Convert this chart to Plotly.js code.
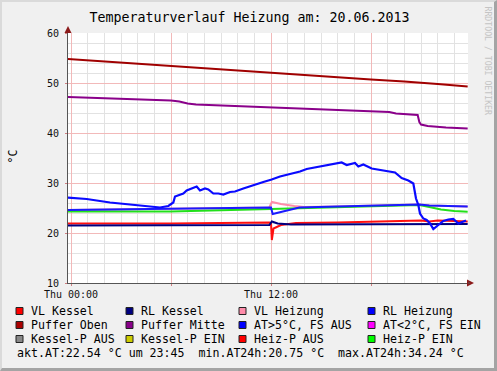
<!DOCTYPE html>
<html>
<head>
<meta charset="utf-8">
<script src="https://cdn.plot.ly/plotly-3.0.1.min.js"></script>
<style>
html,body{margin:0;padding:0;background:#f0f0f0;}
#wrap{position:relative;width:497px;height:371px;}
#chart{width:497px;height:371px;}
#frame{position:absolute;left:0;top:0;width:497px;height:371px;box-sizing:border-box;
border-left:2px solid #dadada;border-top:2px solid #dadada;border-right:3px solid #a4a4a4;border-bottom:3px solid #a4a4a4;pointer-events:none;}
</style>
</head>
<body>
<div id="wrap"><div id="chart"></div><div id="frame"></div></div>
<script>
// ---- data (hours since Thu 00:00) ----
const tPufferOben = [-0.2, 2, 4, 6, 7, 8, 10, 12, 14, 16, 18, 20, 21, 22, 23.8];
const vPufferOben = [54.8, 54.3, 53.9, 53.4, 53.2, 52.9, 52.4, 52.0, 51.6, 51.1, 50.7, 50.3, 50.1, 49.8, 49.3];

const tPufferMitte = [-0.2, 2, 4, 6, 6.5, 7.0, 7.5, 9, 12, 15, 18, 19.1, 19.5, 20.2, 20.8, 20.9, 21.0, 21.4, 22.5, 23.8];
const vPufferMitte = [47.2, 47.0, 46.8, 46.5, 46.3, 45.9, 45.7, 45.5, 45.0, 44.7, 44.3, 44.2, 43.9, 43.7, 43.6, 42.2, 41.7, 41.4, 41.1, 40.9];

const tVLKessel = [-0.2, 6, 11.9, 12.0, 12.05, 12.15, 12.6, 13.5, 16, 18, 20, 21, 21.5, 22, 23, 23.8];
const vVLKessel = [21.9, 21.9, 22.1, 22.0, 18.6, 20.9, 21.6, 22.0, 22.1, 22.2, 22.4, 22.5, 22.3, 22.5, 22.4, 22.3];

const tRLKessel = [-0.2, 6, 11.9, 12.05, 12.4, 13.2, 16, 20, 23.8];
const vRLKessel = [21.5, 21.5, 21.6, 22.3, 21.9, 21.7, 21.7, 21.8, 21.8];

const tVLHeizung = [-0.2, 6, 11.9, 12.05, 12.6, 13.4, 14, 16, 18, 20.9, 21.5, 23.8];
const vVLHeizung = [24.6, 24.8, 25.1, 26.2, 25.8, 25.4, 25.2, 25.3, 25.5, 25.7, 25.5, 25.3];

const tRLHeizung = [-0.2, 6, 11.9, 12.0, 12.1, 12.6, 13.2, 13.7, 16, 18, 20.9, 21.5, 23.8];
const vRLHeizung = [24.6, 24.8, 25.1, 25.1, 23.8, 24.2, 24.6, 25.1, 25.3, 25.5, 25.7, 25.5, 25.3];

const tHeizPEin = [-0.2, 6, 12, 16, 20.9, 21.5, 22.2, 23, 23.8];
const vHeizPEin = [24.3, 24.3, 24.8, 25.2, 25.6, 25.2, 24.7, 24.4, 24.25];

const tAT = [-0.18, 0.94, 2.34, 3.34, 4.54, 5.34, 5.84, 6.14, 6.24, 6.74, 6.94, 7.34, 7.54, 7.74, 8.04, 8.24, 8.54, 8.84, 9.14, 9.54, 9.84, 10.34, 10.94, 11.54, 12.04, 12.54, 13.14, 13.74, 14.14, 14.94, 15.74, 16.24, 16.54, 17.04, 17.24, 17.54, 18.04, 18.74, 19.44, 19.84, 20.24, 20.54, 20.7, 20.84, 20.94, 21.14, 21.34, 21.54, 21.74, 22.04, 22.34, 22.64, 22.94, 23.24, 23.54, 23.7];
const vAT = [27.07, 26.8, 26.1, 25.8, 25.4, 25.1, 25.4, 26.1, 27.3, 27.9, 28.5, 29.1, 29.3, 28.5, 28.9, 28.7, 27.9, 27.9, 27.7, 28.2, 28.3, 28.9, 29.6, 30.2, 30.7, 31.3, 31.8, 32.3, 32.8, 33.3, 33.7, 34.1, 33.6, 34.0, 33.3, 33.7, 32.9, 32.5, 32.1, 31.0, 30.5, 29.9, 26.9, 25.6, 23.9, 22.9, 22.6, 21.9, 20.8, 21.6, 22.4, 22.7, 22.8, 21.9, 22.3, 22.5];

// ---- ticks / labels ----
const xTickVals = [0, 6, 12, 18];
const xTickText = ["Thu 00:00", "", "Thu 12:00", ""];
const legendLabels = ["VL Kessel", "RL Kessel", "VL Heizung", "RL Heizung",
  "Puffer Oben", "Puffer Mitte", "AT>5°C, FS AUS", "AT<2°C, FS EIN",
  "Kessel-P AUS", "Kessel-P EIN", "Heiz-P AUS", "Heiz-P EIN"];
const legendColors = ["#ff0000", "#000080", "#ff8caa", "#0000ff",
  "#aa0000", "#880088", "#0000ff", "#ff00ff",
  "#888888", "#cccc00", "#ff0000", "#00ff00"];
const statsText = "akt.AT:22.54 °C um 23:45  min.AT24h:20.75 °C  max.AT24h:34.24 °C";
const titleText = "Temperaturverlauf Heizung am: 20.06.2013";

// ---- layout helpers ----
const W = 497, H = 371, L = 68, R = 468, T = 33, B = 283;
const px = x => (x - L) / (R - L);
const py = y => (B - y) / (B - T);
const mono = "DejaVu Sans Mono, monospace";

function line(t, v, color, w) {
  return {x: t, y: v, type: "scatter", mode: "lines", showlegend: false, hoverinfo: "skip",
    line: {color: color, width: w || 2, shape: "linear"}};
}

const traces = [
  line(tVLHeizung, vVLHeizung, "#ff8caa"),
  line(tHeizPEin, vHeizPEin, "#22e01a"),
  line(tRLHeizung, vRLHeizung, "#1a1aff"),
  line(tVLKessel, vVLKessel, "#ff1010"),
  line(tRLKessel, vRLKessel, "#000080"),
  line(tPufferOben, vPufferOben, "#a00000"),
  line(tPufferMitte, vPufferMitte, "#8a008a"),
  line(tAT, vAT, "#0a0aff", 2.2)
];

const colX = [16, 126, 239, 368];
const rowY = [311, 325, 339];
const annotations = [];
const shapes = [];
legendLabels.forEach((lab, i) => {
  const c = i % 4, r = Math.floor(i / 4);
  const sx = colX[c], sy = rowY[r];
  shapes.push({type: "rect", xref: "paper", yref: "paper",
    x0: px(sx), x1: px(sx + 7), y0: py(sy - 3.5), y1: py(sy + 3.5),
    fillcolor: legendColors[i], line: {color: "#222", width: 1}});
  annotations.push({xref: "paper", yref: "paper", x: px(sx + 13), y: py(sy),
    xanchor: "left", yanchor: "middle", showarrow: false, text: lab,
    font: {family: mono, size: 11.6, color: "#000"}});
});
annotations.push({xref: "paper", yref: "paper", x: px(15), y: py(353),
  xanchor: "left", yanchor: "middle", showarrow: false,
  text: statsText.replace(/ /g, "\u00a0"), font: {family: mono, size: 11.6, color: "#000"}});
annotations.push({xref: "paper", yref: "paper", x: px(12.5), y: py(156),
  xanchor: "center", yanchor: "middle", showarrow: false, textangle: -90,
  text: "°C", font: {family: mono, size: 11.6, color: "#000"}});
annotations.push({xref: "paper", yref: "paper", x: px(487.5), y: py(61),
  xanchor: "center", yanchor: "middle", showarrow: false, textangle: 90,
  text: "RRDTOOL\u00a0/\u00a0TOBI\u00a0OETIKER", font: {family: mono, size: 8.2, color: "#c4c4c4"}});

// axis arrows
shapes.push({type: "path", xref: "paper", yref: "paper", fillcolor: "#8b1a1a", line: {width: 0},
  path: `M ${px(64.5)} ${py(33)} L ${px(71.5)} ${py(33)} L ${px(68)} ${py(26)} Z`});
shapes.push({type: "path", xref: "paper", yref: "paper", fillcolor: "#8b1a1a", line: {width: 0},
  path: `M ${px(467)} ${py(279.5)} L ${px(467)} ${py(286.5)} L ${px(474)} ${py(283)} Z`});
shapes.push({type: "line", xref: "paper", yref: "paper", x0: px(468), x1: px(470), y0: 0, y1: 0,
  line: {color: "#555", width: 1}});

const layout = {
  width: W, height: H,
  margin: {l: L, r: W - R, t: T, b: H - B, pad: 0},
  paper_bgcolor: "#f0f0f0", plot_bgcolor: "#ffffff",
  title: {text: titleText, font: {family: mono, size: 13.3, color: "#000"},
    xref: "container", yref: "container", x: 249.5 / W, y: 1 - 17 / H, xanchor: "center", yanchor: "middle"},
  xaxis: {range: [-0.18, 23.82], tickmode: "array", tickvals: xTickVals, ticktext: xTickText,
    showgrid: true, gridcolor: "#f2b9b9", gridwidth: 1, zeroline: false,
    showline: true, linecolor: "#555", linewidth: 1,
    ticks: "outside", ticklen: 2, tickcolor: "#d08080",
    tickfont: {family: mono, size: 10, color: "#111"},
    minor: {dtick: 1, tick0: 0, showgrid: true, gridcolor: "#e2e2e2", gridwidth: 1, ticks: ""},
    fixedrange: true},
  yaxis: {range: [10, 60], tickmode: "linear", tick0: 0, dtick: 10,
    showgrid: true, gridcolor: "#f2b9b9", gridwidth: 1, zeroline: false,
    showline: true, linecolor: "#555", linewidth: 1,
    ticks: "outside", ticklen: 2, tickcolor: "#d08080", ticklabelstandoff: 4,
    tickfont: {family: mono, size: 10, color: "#111"},
    minor: {dtick: 2, tick0: 0, showgrid: true, gridcolor: "#e2e2e2", gridwidth: 1, ticks: ""},
    fixedrange: true},
  showlegend: false,
  annotations: annotations,
  shapes: shapes
};

Plotly.newPlot("chart", traces, layout, {staticPlot: true, displayModeBar: false});
</script>
</body>
</html>
